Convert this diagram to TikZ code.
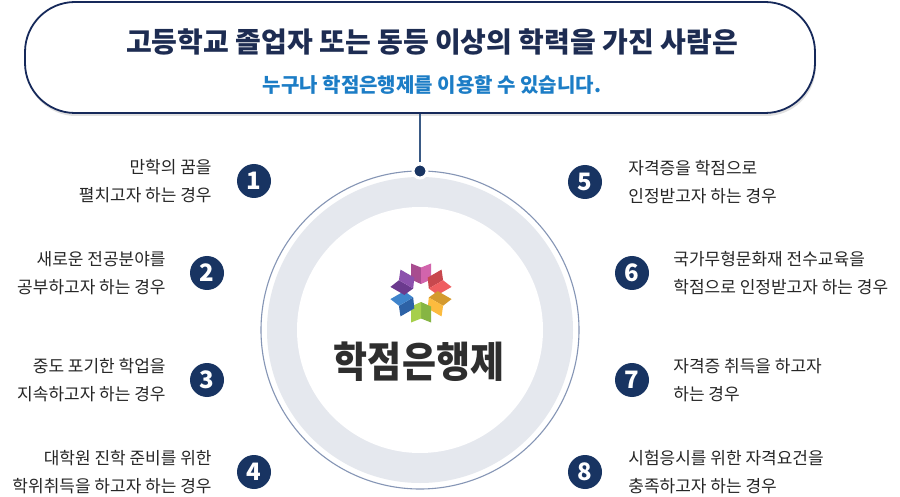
\documentclass[tikz,border=0pt]{standalone}
\usepackage{fontspec}
\setmainfont{Noto Sans CJK KR}
\usepackage{graphicx}
\definecolor{navy}{HTML}{183462}
\definecolor{boxc}{HTML}{16295A}
\definecolor{titc}{HTML}{1D2C52}
\definecolor{bluec}{HTML}{1C7DC6}
\definecolor{labc}{HTML}{262626}
\definecolor{ringc}{HTML}{E5E8EE}
\definecolor{outc}{HTML}{8595B5}
\definecolor{connc}{HTML}{3A5A85}
\definecolor{pinkd}{HTML}{A84C8F}
\definecolor{pinkl}{HTML}{D264AC}
\definecolor{redd}{HTML}{C8484E}
\definecolor{redl}{HTML}{EF5E60}
\definecolor{yeld}{HTML}{D49A2E}
\definecolor{yell}{HTML}{FCBB3E}
\definecolor{grnd}{HTML}{86B543}
\definecolor{grnl}{HTML}{A6CF4B}
\definecolor{blud}{HTML}{2D62A6}
\definecolor{blul}{HTML}{3F84CC}
\definecolor{purd}{HTML}{6B3A8E}
\definecolor{purl}{HTML}{8C51AD}
\newcommand\kpetal[3]{%
  \begin{scope}[rotate=#1]
    \fill[#2] (0,9) -- (-10,13.5) -- (-10,29.5) -- (0,25.5) -- cycle;
    \fill[#3] (0,9) -- (10,13.5) -- (10,29.5) -- (0,25.5) -- cycle;
  \end{scope}}
\begin{document}
\begin{tikzpicture}[x=1pt,y=-1pt,
  numc/.style={circle,fill=navy,minimum size=34pt,inner sep=0pt,text=white,font=\fontsize{24}{24}\selectfont\bfseries},
  lbl/.style={text=labc,font=\fontsize{17}{28.5}\selectfont,inner sep=0pt},
  lblL/.style={lbl,align=right,anchor=east},
  lblR/.style={lbl,align=left,anchor=west}]
\useasboundingbox (0,0) rectangle (900,497);
\fill[white] (0,0) rectangle (900,497);

% top box
\fill[black!12, rounded corners=50pt] (26,5) rectangle (816,116);
\node[draw=boxc, fill=white, line width=1.8pt, rounded corners=50pt,
      minimum width=790pt, minimum height=111pt, inner sep=0pt] (box) at (420,57.5) {};
\node[text=titc, font=\fontsize{28}{28}\selectfont\bfseries] (head) at (432,42)
  {고등학교 졸업자 또는 동등 이상의 학력을 가진 사람은};
\node[text=bluec, font=\fontsize{20}{20}\selectfont\bfseries] (sub) at (432,85)
  {누구나 학점은행제를 이용할 수 있습니다.};

% central circle
\fill[ringc] (420,330) circle (153);
\fill[white] (420,330) circle (123);
\draw[outc, line width=1.1pt] (420,330) circle (159);
\node[circle, fill=navy, draw=white, line width=3pt, minimum size=14pt, inner sep=0pt] (dot) at (420,171) {};
\draw[connc, line width=1.5pt] (box.south) -- (dot.north);

% flower logo
\begin{scope}[shift={(421,293)}, yscale=-1]
  \kpetal{0}{pinkd}{pinkl}
  \kpetal{60}{redd}{redl}
  \kpetal{120}{yeld}{yell}
  \kpetal{180}{grnd}{grnl}
  \kpetal{-120}{blud}{blul}
  \kpetal{-60}{purd}{purl}
\end{scope}
\node[text=black!82, inner sep=0pt] (logo) at (419,362)
  {\scalebox{0.88}[1]{\fontsize{42}{42}\selectfont\bfseries 학점은행제}};

% numbered circles
\node[numc] (n1) at (254,181) {1};
\node[numc] (n2) at (207,273) {2};
\node[numc] (n3) at (207,380) {3};
\node[numc] (n4) at (254,472) {4};
\node[numc] (n5) at (585,182) {5};
\node[numc] (n6) at (632,273) {6};
\node[numc] (n7) at (632,380) {7};
\node[numc] (n8) at (585,472) {8};

% labels
\node[lblL] (t1) at ([xshift=-25pt]n1.west) {만학의 꿈을\\펼치고자 하는 경우};
\node[lblL] (t2) at ([xshift=-24pt]n2.west) {새로운 전공분야를\\공부하고자 하는 경우};
\node[lblL] (t3) at ([xshift=-24pt]n3.west) {중도 포기한 학업을\\지속하고자 하는 경우};
\node[lblL] (t4) at ([xshift=-25pt]n4.west) {대학원 진학 준비를 위한\\학위취득을 하고자 하는 경우};
\node[lblR] (t5) at ([xshift=26pt]n5.east) {자격증을 학점으로\\인정받고자 하는 경우};
\node[lblR] (t6) at ([xshift=24pt]n6.east) {국가무형문화재 전수교육을\\학점으로 인정받고자 하는 경우};
\node[lblR] (t7) at ([xshift=24pt]n7.east) {자격증 취득을 하고자\\하는 경우};
\node[lblR] (t8) at ([xshift=26pt]n8.east) {시험응시를 위한 자격요건을\\충족하고자 하는 경우};
\end{tikzpicture}
\end{document}
